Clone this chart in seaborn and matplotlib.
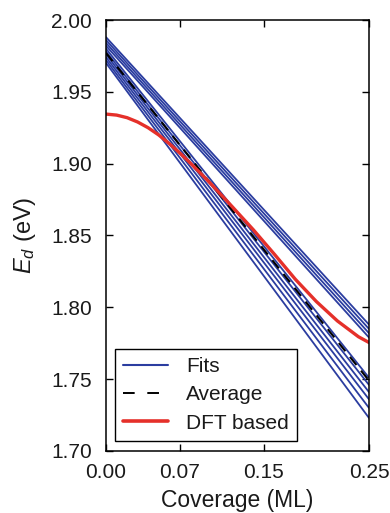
import numpy as np
import pandas as pd
import seaborn as sns
import matplotlib.pyplot as plt
from matplotlib.lines import Line2D

# coverage range of the fits (ML)
cov_ends = [0.0, 0.25]
# individual linear fits: E_d at 0 ML and at 0.25 ML
fit_start = [1.988, 1.986, 1.984, 1.982, 1.980, 1.978, 1.976, 1.974, 1.972, 1.970]
fit_end = [1.788, 1.785, 1.782, 1.779, 1.751, 1.746, 1.741, 1.736, 1.730, 1.723]
# average fit
avg_start = 1.977
avg_end = 1.749
# DFT based curve
dft_cov = [0.0, 0.01, 0.02, 0.03, 0.04, 0.05, 0.06, 0.07, 0.08, 0.09, 0.10,
           0.12, 0.14, 0.16, 0.18, 0.20, 0.22, 0.24, 0.25]
dft_ed = [1.9345, 1.9338, 1.9320, 1.9290, 1.9250, 1.9200, 1.9140, 1.9075, 1.9005,
          1.8932, 1.8857, 1.8700, 1.8540, 1.8370, 1.8195, 1.8040, 1.7905, 1.7795, 1.7755]

xticks = [0.0, 0.07, 0.15, 0.25]
yticks = [1.70, 1.75, 1.80, 1.85, 1.90, 1.95, 2.00]

blue = "#2b3da0"
red = "#e5302a"
txt = "#1a1a1a"

rows = []
for i, (a, b) in enumerate(zip(fit_start, fit_end)):
    rows.append({"fit": i, "coverage": cov_ends[0], "Ed": a})
    rows.append({"fit": i, "coverage": cov_ends[1], "Ed": b})
df_fits = pd.DataFrame(rows)
df_avg = pd.DataFrame({"coverage": cov_ends, "Ed": [avg_start, avg_end]})
df_dft = pd.DataFrame({"coverage": dft_cov, "Ed": dft_ed})

sns.set_style("ticks")
plt.rcParams["font.family"] = ["Liberation Sans", "DejaVu Sans"]
plt.rcParams["mathtext.fontset"] = "custom"
plt.rcParams["mathtext.it"] = "Liberation Sans:italic"
plt.rcParams["mathtext.rm"] = "Liberation Sans"

fig = plt.figure(figsize=(3.9, 5.13), dpi=100)
ax = fig.add_axes([0.272, 0.121, 0.674, 0.840])

sns.lineplot(data=df_fits, x="coverage", y="Ed", units="fit", estimator=None,
             color=blue, lw=1.3, ax=ax, legend=False)
sns.lineplot(data=df_avg, x="coverage", y="Ed", color="black", lw=1.5,
             ax=ax, legend=False, linestyle=(0, (5, 3.5)))
sns.lineplot(data=df_dft, x="coverage", y="Ed", color=red, lw=2.4, ax=ax, legend=False)

ax.set_xlim(0, 0.25)
ax.set_ylim(1.70, 2.00)
ax.set_xticks(xticks)
ax.set_xticklabels(["0.00", "0.07", "0.15", "0.25"])
ax.set_yticks(yticks)
ax.set_yticklabels([f"{v:.2f}" for v in yticks])
ax.tick_params(direction="in", length=5, width=1, top=True, right=True,
               labelsize=15, colors="black", labelcolor=txt)
ax.tick_params(axis="x", pad=8.5)
ax.tick_params(axis="y", pad=10)
for s in ax.spines.values():
    s.set_linewidth(1.1)
    s.set_color("black")

ax.set_xlabel("Coverage (ML)", fontsize=16.5, labelpad=5, color=txt)
ax.set_ylabel("$E_d$ (eV)", fontsize=17, labelpad=10, color=txt)

handles = [
    Line2D([], [], color=blue, lw=1.5),
    Line2D([], [], color="black", lw=1.4, linestyle=(0, (6, 6.5))),
    Line2D([], [], color=red, lw=2.6),
]
leg = ax.legend(handles, ["Fits", "Average", "DFT based"], loc="lower left",
                bbox_to_anchor=(0.034, 0.023), fontsize=15, frameon=True,
                fancybox=False, edgecolor="black", handlelength=2.15,
                handletextpad=0.85, borderpad=0.4, labelspacing=0.45,
                borderaxespad=0.0)
leg.get_frame().set_linewidth(1.0)
leg.get_frame().set_alpha(1)
for t in leg.get_texts():
    t.set_color(txt)

plt.savefig("out.png", dpi=100)
